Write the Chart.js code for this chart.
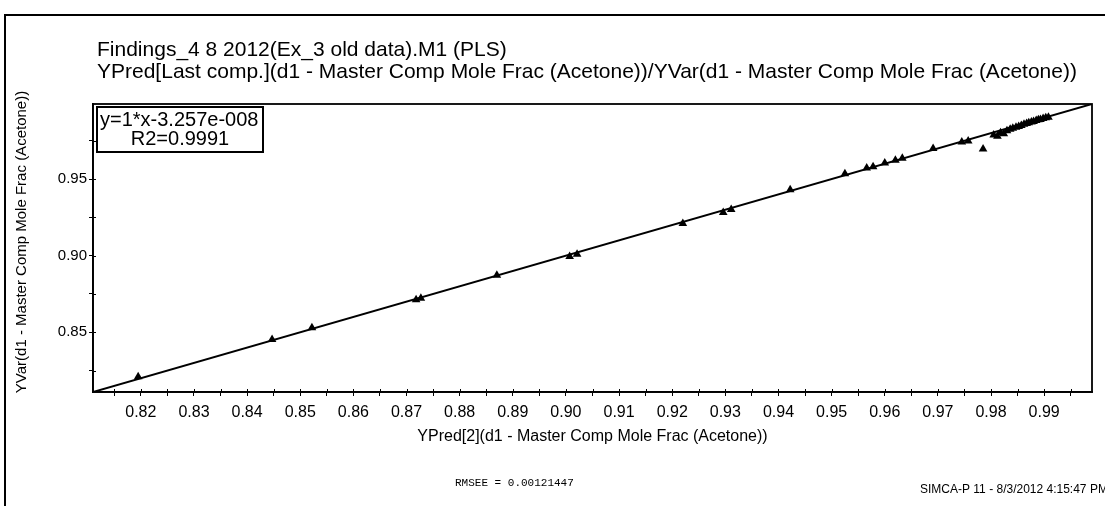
<!DOCTYPE html>
<html>
<head>
<meta charset="utf-8">
<script src="https://cdn.jsdelivr.net/npm/chart.js@4.4.1/dist/chart.umd.min.js"></script>
<style>
  html, body { margin: 0; padding: 0; background: #fff; }
  #wrap { width: 1105px; height: 506px; position: relative; }
</style>
</head>
<body>
<div id="wrap"><canvas id="c" width="1105" height="506"></canvas></div>
<script>
// Predicted vs. observed mole fraction of acetone (one entry per observation)
const predicted = [0.8195, 0.8447, 0.8522, 0.8718, 0.8727, 0.8870, 0.9007, 0.9021, 0.9220, 0.9296,
                   0.9311, 0.9422, 0.9525, 0.9566, 0.9578, 0.9600, 0.9620, 0.9633, 0.9691, 0.9745,
                   0.9757, 0.9785, 0.9805, 0.9812, 0.9818, 0.9824, 0.9830, 0.9836, 0.9841, 0.9847,
                   0.9852, 0.9857, 0.9862, 0.9867, 0.9871, 0.9876, 0.9880, 0.9885, 0.9889, 0.9893,
                   0.9898, 0.9903, 0.9908];
const observed  = [0.8210, 0.8452, 0.8530, 0.8712, 0.8722, 0.8872, 0.8995, 0.9010, 0.9210, 0.9282,
                   0.9302, 0.9430, 0.9535, 0.9572, 0.9580, 0.9605, 0.9622, 0.9636, 0.9700, 0.9742,
                   0.9748, 0.9696, 0.9788, 0.9780, 0.9802, 0.9795, 0.9815, 0.9825, 0.9832, 0.9838,
                   0.9843, 0.9850, 0.9858, 0.9862, 0.9868, 0.9872, 0.9876, 0.9882, 0.9888, 0.9889,
                   0.9895, 0.9900, 0.9903];

// Fitted regression line y = slope * x + intercept
const fitSlope = 1;
const fitIntercept = -3.257e-8;
const fitR2 = '0.9991';

// Axis range and labelled ticks
const axisMin = 0.811;
const axisMax = 0.999;
const xTickLabels = ['0.82','0.83','0.84','0.85','0.86','0.87','0.88','0.89','0.90',
                     '0.91','0.92','0.93','0.94','0.95','0.96','0.97','0.98','0.99'];
const yTickLabels = ['0.85','0.90','0.95'];

const titleLines = [
  'Findings_4 8 2012(Ex_3 old data).M1 (PLS)',
  'YPred[Last comp.](d1 - Master Comp Mole Frac (Acetone))/YVar(d1 - Master Comp Mole Frac (Acetone))'
];
const xAxisTitle = 'YPred[2](d1 - Master Comp Mole Frac (Acetone))';
const yAxisTitle = 'YVar(d1 - Master Comp Mole Frac (Acetone))';
const rmseeText = 'RMSEE = 0.00121447';
const footerText = 'SIMCA-P 11 - 8/3/2012 4:15:47 PM';

// Major ticks carry labels; an unlabelled minor tick sits halfway between (and beyond) them
function withMinor(labels, minorStep) {
  const major = labels.map(Number);
  const vals = [];
  major.forEach(v => { vals.push(+(v - minorStep).toFixed(4)); vals.push(v); });
  vals.push(+(major[major.length - 1] + minorStep).toFixed(4));
  return Array.from(new Set(vals)).filter(v => v > axisMin && v < axisMax).sort((a, b) => a - b);
}
const xTickValues = withMinor(xTickLabels, 0.005);
const yTickValues = withMinor(yTickLabels, 0.025);

const points = predicted.map((p, i) => ({ x: p, y: observed[i] }));
const fitLine = [axisMin, axisMax].map(x => ({ x: x, y: fitSlope * x + fitIntercept }));

const FONT = '"Liberation Sans", Arial, sans-serif';

const decorations = {
  id: 'decorations',
  afterDraw(chart) {
    const ctx = chart.ctx;
    const a = chart.chartArea;
    ctx.save();
    ctx.strokeStyle = '#000';
    ctx.fillStyle = '#000';

    // page frame (top and left edges)
    ctx.lineWidth = 2;
    ctx.beginPath();
    ctx.moveTo(5, 506); ctx.lineTo(5, 15); ctx.lineTo(1105, 15);
    ctx.stroke();

    // plot frame
    ctx.lineWidth = 1.8;
    ctx.strokeRect(a.left, a.top, a.right - a.left, a.bottom - a.top);

    // inner halves of the tick marks
    ctx.lineWidth = 1;
    const xs = chart.scales.x, ys = chart.scales.y;
    xs.ticks.forEach(t => {
      const px = Math.round(xs.getPixelForValue(t.value)) + 0.5;
      ctx.beginPath(); ctx.moveTo(px, a.bottom); ctx.lineTo(px, a.bottom - 3); ctx.stroke();
    });
    ys.ticks.forEach(t => {
      const py = Math.round(ys.getPixelForValue(t.value)) + 0.5;
      ctx.beginPath(); ctx.moveTo(a.left, py); ctx.lineTo(a.left + 3, py); ctx.stroke();
    });

    // regression equation box
    const bx = a.left + 4, by = a.top + 3, bw = 166, bh = 45;
    ctx.fillStyle = '#fff';
    ctx.fillRect(bx, by, bw, bh);
    ctx.fillStyle = '#000';
    ctx.lineWidth = 2;
    ctx.strokeRect(bx, by, bw, bh);
    ctx.font = '20px ' + FONT;
    ctx.textBaseline = 'middle';
    ctx.textAlign = 'left';
    const eq = 'y=' + fitSlope + '*x' + fitIntercept.toExponential(3).replace('e-', 'e-00');
    ctx.fillText(eq, bx + 3, by + 13);
    ctx.textAlign = 'center';
    ctx.fillText('R2=' + fitR2, bx + bw / 2, by + 32);

    // titles
    ctx.textAlign = 'left';
    ctx.font = '21px ' + FONT;
    ctx.fillText(titleLines[0], 97, 50);
    ctx.fillText(titleLines[1], 97, 72);

    // axis titles
    ctx.font = '16px ' + FONT;
    ctx.textAlign = 'center';
    ctx.fillText(xAxisTitle, (a.left + a.right) / 2, 437);
    ctx.save();
    ctx.font = '15px ' + FONT;
    ctx.translate(22, (a.top + a.bottom) / 2 - 6);
    ctx.rotate(-Math.PI / 2);
    ctx.fillText(yAxisTitle, 0, 0);
    ctx.restore();

    // statistics and footer
    ctx.font = '11px "Liberation Mono", "Courier New", monospace';
    ctx.textAlign = 'left';
    ctx.fillText(rmseeText, 455, 483);
    ctx.font = '12px ' + FONT;
    ctx.fillText(footerText, 920, 490);
    ctx.restore();
  }
};

new Chart(document.getElementById('c'), {
  type: 'scatter',
  data: {
    datasets: [
      {
        type: 'line',
        data: fitLine,
        borderColor: '#000',
        borderWidth: 2,
        pointRadius: 0,
        fill: false,
        order: 2
      },
      {
        data: points,
        pointStyle: 'triangle',
        pointRadius: 5,
        backgroundColor: '#000',
        borderColor: '#000',
        borderWidth: 0,
        order: 1
      }
    ]
  },
  options: {
    responsive: false,
    animation: false,
    devicePixelRatio: 1,
    layout: { padding: { top: 104, right: 13, bottom: 84, left: 0 } },
    plugins: { legend: { display: false }, tooltip: { enabled: false }, title: { display: false } },
    scales: {
      x: {
        type: 'linear',
        min: axisMin,
        max: axisMax,
        afterBuildTicks: s => { s.ticks = xTickValues.map(v => ({ value: v })); },
        afterFit: s => { s.height = 30; },
        ticks: {
          autoSkip: false,
          maxRotation: 0,
          padding: 7,
          color: '#000',
          font: { family: FONT, size: 16 },
          callback: v => { const l = v.toFixed(2); return xTickLabels.includes(l) && Math.abs(v - +l) < 1e-6 ? l : ''; }
        },
        grid: { drawOnChartArea: false, drawTicks: true, tickLength: 4, color: '#000', lineWidth: 1 },
        border: { display: true, color: '#000', width: 1.8 }
      },
      y: {
        type: 'linear',
        min: axisMin,
        max: axisMax,
        afterBuildTicks: s => { s.ticks = yTickValues.map(v => ({ value: v })); },
        afterFit: s => { s.width = 93; },
        ticks: {
          autoSkip: false,
          padding: 2,
          color: '#000',
          font: { family: FONT, size: 15 },
          callback: v => { const l = v.toFixed(2); return yTickLabels.includes(l) && Math.abs(v - +l) < 1e-6 ? l : ''; }
        },
        grid: { drawOnChartArea: false, drawTicks: true, tickLength: 4, color: '#000', lineWidth: 1 },
        border: { display: true, color: '#000', width: 1.8 }
      }
    }
  },
  plugins: [decorations]
});
</script>
</body>
</html>
